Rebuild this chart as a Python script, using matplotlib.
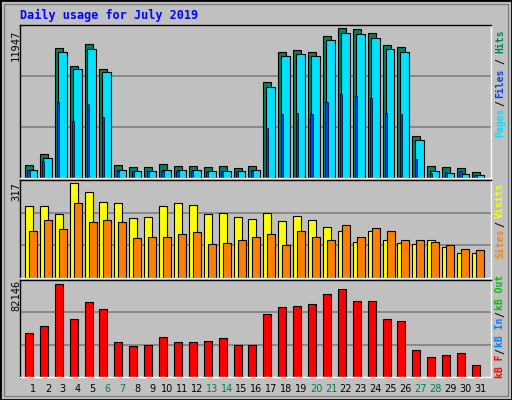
import matplotlib
matplotlib.use("Agg")
import matplotlib.pyplot as plt
from matplotlib.patches import Rectangle

days = list(range(1, 32))
hits = [1000,1892,10325,8947,10650,8704,1000,838,838,1081,919,919,838,919,757,919,
        7650,10001,10163,10001,11298,11947,11866,11542,10569,10407,3352,919,838,757,514]
files = [676,1568,10001,8704,10245,8461,676,595,595,676,676,676,595,595,595,676,
         7244,9758,9839,9758,10974,11542,11461,11136,10245,10001,3027,595,432,351,270]
pages = [676,1324,6028,4568,5866,4893,676,595,595,595,595,595,595,595,595,595,
         4000,5136,5217,5136,6028,6676,6514,6352,5217,5136,1487,432,514,595,270]
visits = [238,238,214,317,286,252,248,200,204,238,248,242,214,217,204,197,217,190,
          207,193,169,156,121,156,125,118,114,125,104,84,84]
sites = [156,193,162,248,187,193,187,132,135,138,145,152,114,118,128,138,145,111,
         156,138,128,176,135,166,156,128,128,121,111,97,94]
kbytes = [38974,45270,82146,50666,65956,59660,30879,27282,28181,35376,30879,30879,
          31779,34477,28181,28181,55163,61459,62358,64157,73151,77648,66855,66855,
          50666,49767,23684,17388,19187,20986,10193]
weekend = [6, 7, 13, 14, 20, 21, 27, 28]

W, H = 512, 400
fig = plt.figure(figsize=(W/100, H/100), dpi=100)
fig.patch.set_facecolor("#c0c0c0")
fig.add_artist(Rectangle((0, 0), 1, 1, transform=fig.transFigure, fill=False,
                         edgecolor="black", lw=2))
fig.add_artist(Rectangle((4/W, 4/H), 1-8/W, 1-8/H, transform=fig.transFigure, fill=False,
                         edgecolor="#808080", lw=1))

def ax_at(x0, y0, x1, y1):
    a = fig.add_axes([x0/W, 1-y1/H, (x1-x0)/W, (y1-y0)/H])
    a.set_facecolor("#c0c0c0")
    a.set_xlim(0.13, 31.74)
    a.set_xticks([]); a.set_yticks([])
    for s in ("left", "top"):
        a.spines[s].set_color("black")
    for s in ("right", "bottom"):
        a.spines[s].set_color("white")
    for sp in a.spines.values():
        sp.set_linewidth(1)
    return a

mono = "DejaVu Sans Mono"
fig.text(20/W, 1-15/H, "Daily usage for July 2019", color="#0000ff", fontsize=8.5,
         fontweight="bold", family=mono, va="center")

a1 = ax_at(20, 25, 491, 178)
top1 = 11947 * 151/148
a1.set_ylim(0, top1)
for g in (top1/3, 2*top1/3):
    a1.axhline(g, color="#808080", lw=1.2, zorder=0)
x = [d - 0.54 for d in days]
a1.bar(x, hits, width=0.54, align="edge", color="#00805c", edgecolor="black", lw=0.8)
a1.bar([d - 0.34 for d in days], files, width=0.6, align="edge", color="#00e0ff",
       edgecolor="black", lw=0.8)
a1.bar([d - 0.38 for d in days], pages, width=0.15, align="edge", color="#0040ff",
       edgecolor="black", lw=0.5)
fig.text(16/W, 1-45/H, "11947", rotation=90, fontsize=7.5, family=mono, ha="center", va="center")

a2 = ax_at(20, 180, 491, 278)
top2 = 317 * 285/277
a2.set_ylim(0, top2)
for g in (top2/3, 2*top2/3):
    a2.axhline(g, color="#808080", lw=1.2, zorder=0)
a2.bar(x, visits, width=0.54, align="edge", color="#ffff00", edgecolor="black", lw=0.8)
a2.bar([d - 0.27 for d in days], sites, width=0.54, align="edge", color="#ff8000",
       edgecolor="black", lw=0.8)
fig.text(16/W, 1-192/H, "317", rotation=90, fontsize=7.5, family=mono, ha="center", va="center")

a3 = ax_at(20, 280, 491, 377)
top3 = 82146 * 285/274
a3.set_ylim(0, top3)
for g in (top3/3, 2*top3/3):
    a3.axhline(g, color="#808080", lw=1.2, zorder=0)
a3.bar(x, kbytes, width=0.54, align="edge", color="#ff0000", edgecolor="black", lw=0.8)
fig.text(16/W, 1-295/H, "82146", rotation=90, fontsize=7.5, family=mono, ha="center", va="center")

for d in days:
    px = 33 + (d - 1) * 14.9
    fig.text(px/W, 1-389/H, str(d), fontsize=7, ha="center", va="center",
             color="#008040" if d in weekend else "black")

def rlab(s, y, c):
    fig.text(500/W, 1-y/H, s, rotation=90, fontsize=7, family=mono, fontweight="bold",
             color=c, ha="center", va="center")
rlab("Hits", 41, "#00805c"); rlab("/", 61, "black"); rlab("Files", 83, "#0040ff")
rlab("/", 103, "black"); rlab("Pages", 122, "#00e0ff")
rlab("Visits", 200, "#ffff00"); rlab("/", 224, "black"); rlab("Sites", 243, "#ff8000")
rlab("kB Out", 292, "#00c000"); rlab("/", 314, "black"); rlab("kB In", 332, "#0080ff")
rlab("/", 351, "black"); rlab("kB F", 366, "#ff0000")

fig.savefig("out.png", dpi=100, facecolor=fig.get_facecolor())
